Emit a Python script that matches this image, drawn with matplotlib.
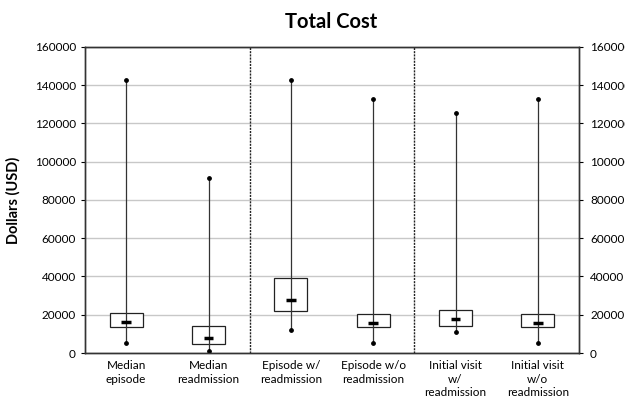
import matplotlib.pyplot as plt

plt.rcParams['font.family'] = ['Lato', 'DejaVu Sans']

# Cost summaries per group (USD)
categories = ["Median\nepisode", "Median\nreadmission", "Episode w/\nreadmission",
              "Episode w/o\nreadmission", "Initial visit\nw/\nreadmission",
              "Initial visit\nw/o\nreadmission"]
minimum = [5400, 1200, 12200, 5400, 10800, 5400]
q1 = [13400, 4500, 22000, 13600, 14100, 13600]
median = [16000, 7700, 27700, 15900, 17600, 15900]
q3 = [20700, 14100, 39200, 20200, 22500, 20200]
maximum = [142500, 91300, 142500, 132800, 125300, 132800]
yticks = [0, 20000, 40000, 60000, 80000, 100000, 120000, 140000, 160000]

fig = plt.figure(figsize=(6.25, 4.01), dpi=100)
ax = fig.add_axes([0.136, 0.1197, 0.7904, 0.7631])

x = [i + 0.5 for i in range(len(categories))]

# whiskers with end dots
ax.vlines(x, minimum, maximum, color='#333333', linewidth=0.9, zorder=3)
ax.scatter(x, minimum, s=6, color='black', zorder=4)
ax.scatter(x, maximum, s=6, color='black', zorder=4)

# interquartile boxes
heights = [b - a for a, b in zip(q1, q3)]
ax.bar(x, heights, bottom=q1, width=0.4, facecolor='white',
       edgecolor='#222222', linewidth=0.9, zorder=2)

# medians
ax.hlines(median, [v - 0.06 for v in x], [v + 0.06 for v in x],
          color='black', linewidth=2.5, zorder=5)

# group separators
for sep in [2, 4]:
    ax.axvline(sep, color='#222222', linestyle=(0, (1.5, 0.8)), linewidth=1.0, zorder=3)

ax.set_xlim(0, 6)
ax.set_ylim(0, 160000)
ax.set_yticks(yticks)
ax.set_yticklabels([str(t) for t in yticks])
ax.set_xticks(x)
ax.set_xticklabels(categories, fontsize=8.5, linespacing=1.3)
ax.tick_params(axis='x', length=0, pad=5)
ax.tick_params(axis='y', labelsize=8.5, length=3, width=0.8)
ax.yaxis.grid(True, color='#c8c8c8', linewidth=1.0)
ax.set_axisbelow(True)
for side in ax.spines.values():
    side.set_color('#333333')
    side.set_linewidth(1.0)

# mirrored scale on the right
ax2 = ax.twinx()
ax2.set_ylim(0, 160000)
ax2.set_yticks(yticks)
ax2.set_yticklabels([str(t) for t in yticks])
ax2.tick_params(axis='y', labelsize=8.5, length=3, width=0.8, pad=5)
for side in ax2.spines.values():
    side.set_color('#333333')
    side.set_linewidth(1.0)

ax.set_ylabel("Dollars (USD)", fontsize=10.5, fontweight='bold', labelpad=10)
fig.text(0.53, 0.945, "Total Cost", fontsize=14.5, fontweight='bold', ha='center', va='center')

fig.savefig("out.png", dpi=100)
